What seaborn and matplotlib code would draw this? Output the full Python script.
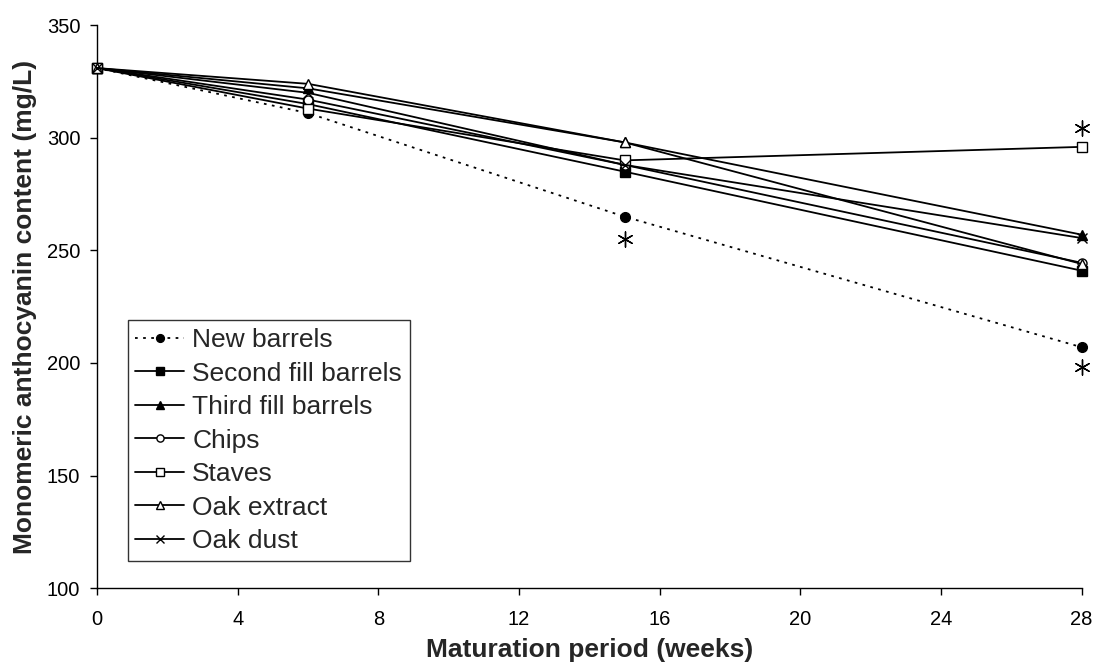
import matplotlib
matplotlib.use("Agg")
import matplotlib.pyplot as plt
import seaborn as sns
import pandas as pd

sns.set_theme(style="ticks")
plt.rcParams['font.family'] = ['Liberation Sans', 'DejaVu Sans']

weeks = [0, 6, 15, 28]
new_barrels = [331, 311, 265, 207]
second_fill = [331, 315, 285, 241]
third_fill = [331, 322, 298, 257]
chips = [331, 317, 288, 244.5]
staves = [331, 313, 290, 296]
oak_extract = [331, 324, 298, 244]
oak_dust = [331, 320, 288, 255.5]

series_names = ["New barrels", "Second fill barrels", "Third fill barrels",
                "Chips", "Staves", "Oak extract", "Oak dust"]
series_values = [new_barrels, second_fill, third_fill, chips, staves,
                 oak_extract, oak_dust]

# significance asterisks (week, value)
star_x = [15, 28, 28]
star_y = [255, 304.5, 198]

x_ticks = [0, 4, 8, 12, 16, 20, 24, 28]
y_ticks = [100, 150, 200, 250, 300, 350]

styles = {
    "New barrels": dict(marker="o", mfc="black", ls=(0, (1.5, 3)), ms=7),
    "Second fill barrels": dict(marker="s", mfc="black", ls="-", ms=6.5),
    "Third fill barrels": dict(marker="^", mfc="black", ls="-", ms=7),
    "Chips": dict(marker="o", mfc="white", ls="-", ms=6.5),
    "Staves": dict(marker="s", mfc="white", ls="-", ms=6.5),
    "Oak extract": dict(marker="^", mfc="white", ls="-", ms=6.5),
    "Oak dust": dict(marker="x", mfc="black", ls="-", ms=7),
}

fig = plt.figure(figsize=(10.94, 6.66), dpi=100)
ax = fig.add_axes([0.0887, 0.117, 0.9, 0.845])

for name, vals in zip(series_names, series_values):
    df = pd.DataFrame({"week": weeks, "value": vals})
    st = styles[name]
    sns.lineplot(data=df, x="week", y="value", ax=ax, color="black",
                 marker=st["marker"], markerfacecolor=st["mfc"],
                 markeredgecolor="black", markersize=st["ms"],
                 markeredgewidth=1.0, linestyle=st["ls"], linewidth=1.3,
                 label=name, clip_on=False, zorder=3)

sns.scatterplot(x=star_x, y=star_y, ax=ax, marker=(6, 2, 0), s=120,
                color="black", edgecolor="black", linewidth=1.0,
                clip_on=False, zorder=4, legend=False)

ax.set_xlim(0, 28)
ax.set_ylim(100, 350)
ax.set_xticks(x_ticks)
ax.set_yticks(y_ticks)
ax.tick_params(axis="both", direction="out", length=5, width=1, labelsize=14.5,
               color="black", labelcolor="black")
ax.tick_params(axis="x", pad=11)
ax.tick_params(axis="y", pad=7)
for s in ["top", "right"]:
    ax.spines[s].set_visible(False)
for s in ["left", "bottom"]:
    ax.spines[s].set_color("black")
    ax.spines[s].set_linewidth(1.0)

ax.set_xlabel("Maturation period (weeks)", fontsize=19, fontweight="bold",
              labelpad=6)
ax.set_ylabel("Monomeric anthocyanin content (mg/L)", fontsize=19,
              fontweight="bold", labelpad=7)

leg = ax.legend(loc="lower left", bbox_to_anchor=(0.031, 0.048), fontsize=19,
                frameon=True, fancybox=False, edgecolor="black",
                handlelength=1.85, handletextpad=0.3, labelspacing=0.36,
                borderpad=0.3, borderaxespad=0, markerscale=0.8)
leg.get_frame().set_linewidth(1.0)

fig.savefig("out.png", dpi=100, facecolor="white")
